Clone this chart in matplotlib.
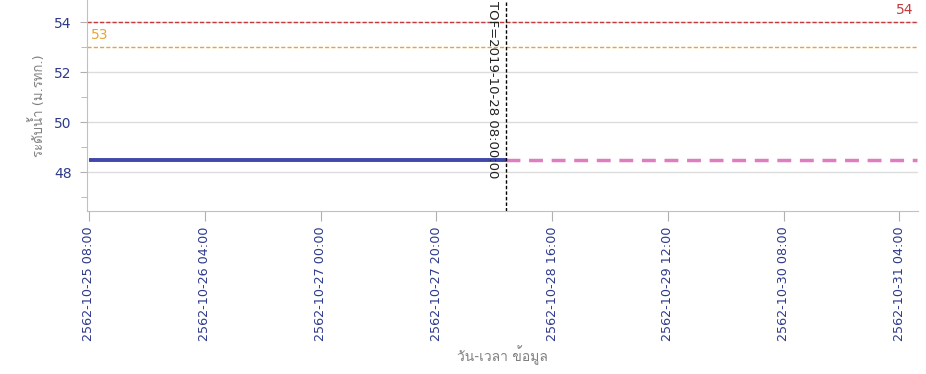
import numpy as np
import pandas as pd
import matplotlib
matplotlib.use('Agg')
import matplotlib.pyplot as plt
import matplotlib.dates as mdates
from matplotlib import font_manager
from matplotlib.ft2font import FT2Font
from matplotlib.ticker import FixedLocator, MultipleLocator

# observed water level (up to TOF) and forecast afterwards, in metres (MSL)
obs_time = ['2019-10-25 08:00', '2019-10-26 08:00', '2019-10-27 08:00', '2019-10-28 08:00']
obs_level = [48.48, 48.48, 48.48, 48.48]
fc_time = ['2019-10-28 08:00', '2019-10-29 08:00', '2019-10-30 08:00', '2019-10-31 07:00']
fc_level = [48.48, 48.48, 48.48, 48.48]

tof = '2019-10-28 08:00:00'
warn_levels = [54, 53]
warn_colors = ['#c8393b', '#e8a530']

tick_labels = ['2562-10-25 08:00', '2562-10-26 04:00', '2562-10-27 00:00', '2562-10-27 20:00',
               '2562-10-28 16:00', '2562-10-29 12:00', '2562-10-30 08:00', '2562-10-31 04:00']

def be_to_ce(s):
    # Thai Buddhist year -> Gregorian
    return pd.Timestamp(str(int(s[:4]) - 543) + s[4:])

def thai_family():
    # look for any installed font that has Thai glyphs
    for f in font_manager.fontManager.ttflist:
        try:
            cmap = FT2Font(f.fname).get_charmap()
        except Exception:
            continue
        if 0x0E01 in cmap and 0x0E49 in cmap:
            return f.name
    return None

fams = ['DejaVu Sans']
th = thai_family()
if th:
    fams.append(th)
plt.rcParams['font.family'] = fams

fig = plt.figure(figsize=(9.26, 3.74), dpi=100)
ax = fig.add_axes([87/926, 163/374, 831/926, 211/374])

obs_t = pd.to_datetime(obs_time)
fc_t = pd.to_datetime(fc_time)
ax.plot(fc_t, fc_level, color='#e07cc0', lw=2.5, dashes=(4, 2.5), zorder=3)
ax.plot(obs_t, obs_level, color='#3f48a8', lw=2.8, solid_capstyle='butt', zorder=4)

for lv, c in zip(warn_levels, warn_colors):
    ax.axhline(lv, color=c, lw=1, dashes=(3, 1.5), zorder=2)
ax.text(0.995, 54.2, '54', color=warn_colors[0], ha='right', va='bottom', fontsize=10,
        transform=ax.get_yaxis_transform())
ax.text(0.005, 53.2, '53', color=warn_colors[1], ha='left', va='bottom', fontsize=10,
        transform=ax.get_yaxis_transform())

tof_t = pd.Timestamp(tof)
ax.axvline(tof_t, color='black', lw=1, dashes=(2.5, 1.5), zorder=5)
ax.text(tof_t - pd.Timedelta(hours=2.3), 54.85, 'TOF=' + tof, rotation=270, ha='center', va='top',
        fontsize=9.5, color='#222222', zorder=6)

x0 = pd.Timestamp('2019-10-25 08:00') - pd.Timedelta(minutes=20)
x1 = pd.Timestamp('2019-10-25 08:00') + pd.Timedelta(hours=143.2)
ax.set_xlim(x0, x1)
ax.set_ylim(46.44, 54.88)

ticks = [be_to_ce(s) for s in tick_labels]
ax.set_xticks(mdates.date2num(ticks))
ax.set_xticklabels(tick_labels, rotation=90, fontsize=9.2, color='#2d3a8c')
ax.yaxis.set_major_locator(FixedLocator([48, 50, 52, 54]))
ax.yaxis.set_minor_locator(MultipleLocator(1))
ax.tick_params(axis='y', which='major', labelsize=10, labelcolor='#2d3a8c', color='#b0b0b0',
               length=5, pad=6)
ax.tick_params(axis='y', which='minor', color='#b0b0b0', length=4)
ax.tick_params(axis='x', color='#b0b0b0', length=7, pad=4)

ax.grid(axis='y', which='major', color='#dcdcdc', lw=1)
for s in ['top', 'right']:
    ax.spines[s].set_visible(False)
for s in ['left', 'bottom']:
    ax.spines[s].set_color('#c0c0c0')

ax.set_ylabel('ระดับน้ำ (ม.รทก.)', color='#808080', fontsize=9.5, labelpad=6)
ax.set_xlabel('วัน-เวลา ข้อมูล', color='#808080', fontsize=10, labelpad=3)

fig.savefig('out.png', dpi=100)
